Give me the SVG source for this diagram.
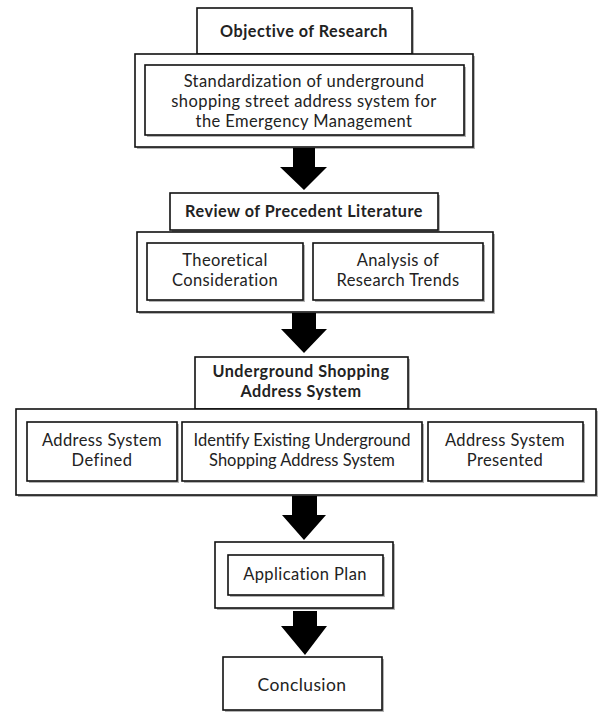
<svg xmlns="http://www.w3.org/2000/svg" width="599" height="712" viewBox="0 0 599 712">
<defs>
<style>
.box{fill:#fff;stroke:#111;stroke-width:1.6}
.sh{fill:#777;opacity:0.55}
.t{font-family:Lato,"Open Sans",sans-serif;font-size:16.5px;fill:#222;text-anchor:middle;letter-spacing:0.4px}
.b{font-weight:700;font-size:16.2px;letter-spacing:0.5px}
.c{font-size:17.5px}
.n{letter-spacing:0px}
.arr{fill:#000}
</style>
</defs>
<rect width="599" height="712" fill="#fff"/>
<g id="objective">
<rect class="sh" x="199" y="10" width="215" height="46"/>
<rect class="box" x="197" y="8" width="215" height="46"/>
<text class="t b" x="304" y="37">Objective of Research</text>
</g>
<g id="objective-group">
<rect class="sh" x="137" y="56" width="338" height="93"/>
<rect class="box" x="135" y="54" width="338" height="93"/>
<rect class="sh" x="147" y="67" width="319" height="70"/>
<rect class="box" x="145" y="65" width="319" height="70"/>
<text class="t" x="304" y="87">Standardization of underground</text>
<text class="t" x="304" y="107">shopping street address system for</text>
<text class="t" x="304" y="127">the Emergency Management</text>
</g>
<g id="review">
<rect class="sh" x="172" y="195" width="268" height="37"/>
<rect class="box" x="170" y="193" width="268" height="37"/>
<text class="t b" x="304" y="217">Review of Precedent Literature</text>
</g>
<g id="review-group">
<rect class="sh" x="139" y="234" width="356" height="80"/>
<rect class="box" x="137" y="232" width="356" height="80"/>
<rect class="sh" x="149" y="245" width="156" height="57"/>
<rect class="box" x="147" y="243" width="156" height="57"/>
<text class="t" x="225" y="266">Theoretical</text>
<text class="t" x="225" y="286">Consideration</text>
<rect class="sh" x="315" y="245" width="170" height="57"/>
<rect class="box" x="313" y="243" width="170" height="57"/>
<text class="t" x="398" y="266">Analysis of</text>
<text class="t" x="398" y="286">Research Trends</text>
</g>
<g id="underground">
<rect class="sh" x="197" y="359" width="213" height="52"/>
<rect class="box" x="195" y="357" width="213" height="52"/>
<text class="t b" x="301" y="377">Underground Shopping</text>
<text class="t b" x="301" y="397">Address System</text>
</g>
<g id="underground-group">
<rect class="sh" x="18" y="411" width="580" height="86"/>
<rect class="box" x="16" y="409" width="580" height="86"/>
<rect class="sh" x="29" y="424" width="150" height="59"/>
<rect class="box" x="27" y="422" width="150" height="59"/>
<text class="t" x="102" y="446">Address System</text>
<text class="t" x="102" y="466">Defined</text>
<rect class="sh" x="184" y="424" width="240" height="59"/>
<rect class="box" x="182" y="422" width="240" height="59"/>
<text class="t n" x="302" y="446">Identify Existing Underground</text>
<text class="t n" x="302" y="466">Shopping Address System</text>
<rect class="sh" x="430" y="424" width="155" height="59"/>
<rect class="box" x="428" y="422" width="155" height="59"/>
<text class="t" x="505" y="446">Address System</text>
<text class="t" x="505" y="466">Presented</text>
</g>
<g id="application">
<rect class="sh" x="217" y="544" width="178" height="66"/>
<rect class="box" x="215" y="542" width="178" height="66"/>
<rect class="sh" x="230" y="557" width="155" height="40"/>
<rect class="box" x="228" y="555" width="155" height="40"/>
<text class="t" x="305" y="580">Application Plan</text>
</g>
<g id="conclusion">
<rect class="sh" x="225" y="659" width="159" height="53"/>
<rect class="box" x="223" y="657" width="159" height="53"/>
<text class="t c" x="302" y="691">Conclusion</text>
</g>
<g id="connectors">
<polygon class="arr" points="293,148 315,148 315,167 327,167 304,190 280,167 293,167"/>
<polygon class="arr" points="292,313 316,313 316,329 327,329 304,353 281,329 292,329"/>
<polygon class="arr" points="292,496 317,496 317,515 326,515 304,540 282,515 292,515"/>
<polygon class="arr" points="293,611 317,611 317,626 327,626 305,655 281,626 293,626"/>
</g>
</svg>
